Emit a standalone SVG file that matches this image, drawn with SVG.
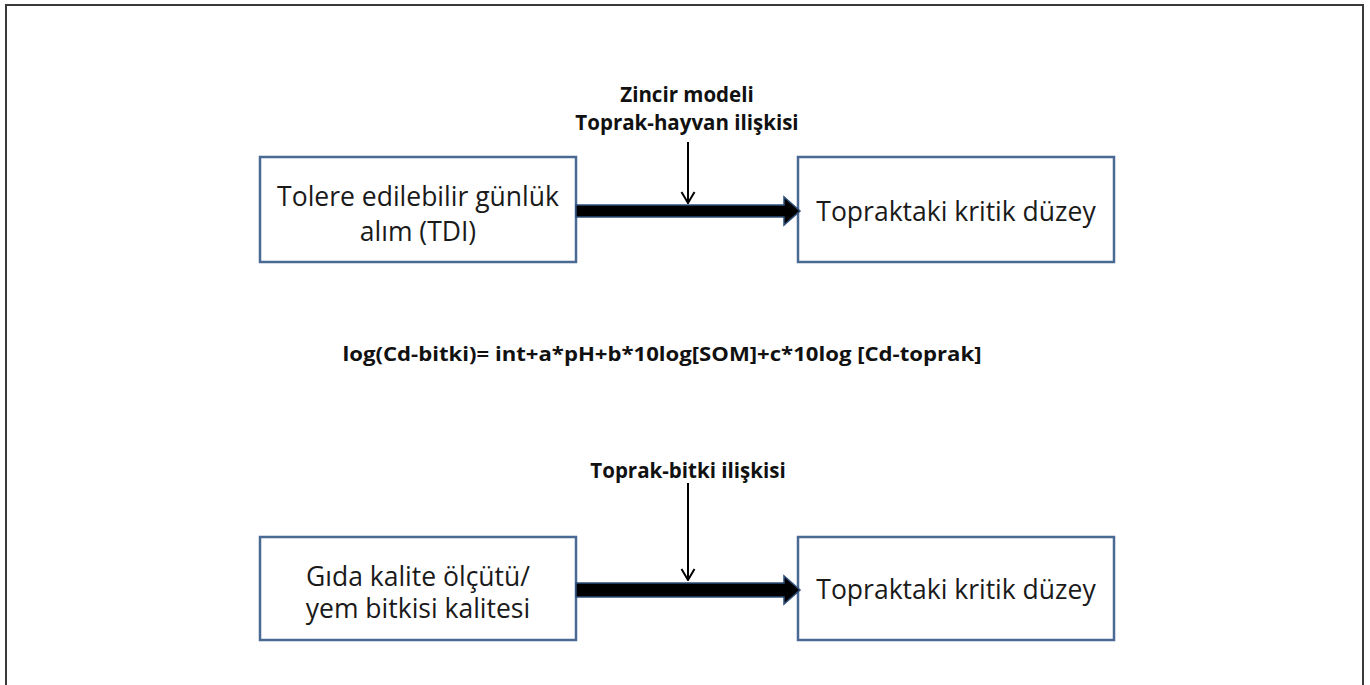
<svg xmlns="http://www.w3.org/2000/svg" width="1370" height="685" viewBox="0 0 1370 685">
<style>
.box{fill:#fff;stroke:#4a6a94;stroke-width:2.5}
.bt{font-family:"Open Sans",Lato,sans-serif;font-size:26.5px;fill:#1a1a1a;text-anchor:middle}
.lbl{font-family:"Open Sans",Lato,sans-serif;font-size:20.5px;font-weight:bold;fill:#111;text-anchor:middle}
.frm{font-family:"Open Sans",Lato,sans-serif;font-size:19px;font-weight:bold;fill:#111;text-anchor:middle}
.big{fill:#000;stroke:#2f4f7a;stroke-width:1.5}
.thin{stroke:#000;stroke-width:2;fill:none}
</style>
<defs>
<marker id="ah" viewBox="0 0 13 16" refX="12" refY="8" markerWidth="13" markerHeight="16" markerUnits="userSpaceOnUse" orient="auto">
<path d="M1,1.5 L12,8 L1,14.5" fill="none" stroke="#000" stroke-width="2"/>
</marker>
</defs>
<rect x="6" y="5" width="1357" height="700" fill="#fff" stroke="#3a3a3a" stroke-width="2"/>
<g id="n1"><rect class="box" x="260" y="157" width="316" height="105"/>
<text class="bt" x="418" y="206">Tolere edilebilir günlük</text>
<text class="bt" x="418" y="241">alım (TDI)</text></g>
<g id="n2"><rect class="box" x="798" y="157" width="316" height="105"/>
<text class="bt" x="956" y="221">Topraktaki kritik düzey</text></g>
<g id="n3"><rect class="box" x="260" y="537" width="316" height="103"/>
<text class="bt" x="418" y="586">Gıda kalite ölçütü/</text>
<text class="bt" x="418" y="618">yem bitkisi kalitesi</text></g>
<g id="n4"><rect class="box" x="798" y="537" width="316" height="103"/>
<text class="bt" x="956" y="599">Topraktaki kritik düzey</text></g>
<g id="labels">
<text class="lbl" x="687" y="102">Zincir modeli</text>
<text class="lbl" x="687" y="130">Toprak-hayvan ilişkisi</text>
<text class="frm" x="662" y="361" textLength="639" lengthAdjust="spacingAndGlyphs">log(Cd-bitki)= int+a*pH+b*10log[SOM]+c*10log [Cd-toprak]</text>
<text class="lbl" x="688" y="478">Toprak-bitki ilişkisi</text>
</g>
<g id="connectors">
<path class="big" d="M576,205 H784 V197 L800,211 L784,225 V217 H576 Z"/>
<line class="thin" x1="688" y1="142" x2="688" y2="203" marker-end="url(#ah)"/>
<path class="big" d="M576,583 H784 V576 L800,590 L784,604 V597 H576 Z"/>
<line class="thin" x1="688" y1="483" x2="688" y2="580" marker-end="url(#ah)"/>
</g>
</svg>
